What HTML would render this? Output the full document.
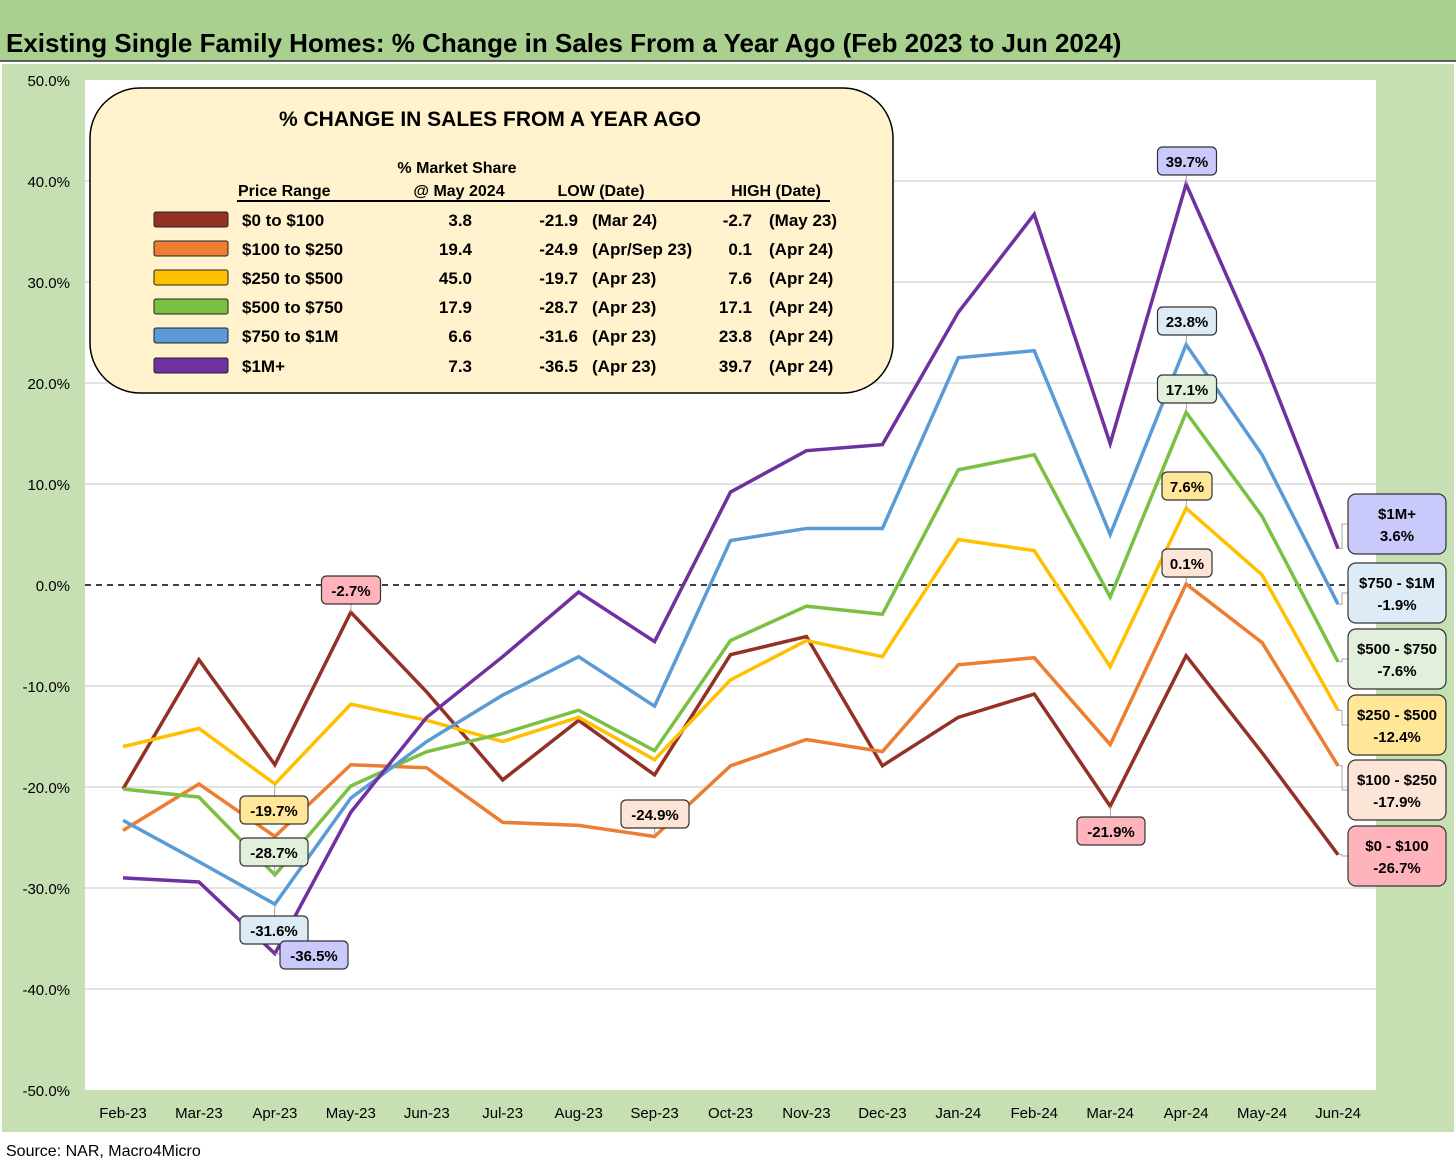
<!DOCTYPE html>
<html><head><meta charset="utf-8"><style>
body{margin:0;background:#fff;}
svg{display:block;font-family:"Liberation Sans",sans-serif;}
</style></head><body>
<svg id="c" width="1456" height="1168" xmlns="http://www.w3.org/2000/svg">
<rect x="0" y="0" width="1456" height="1168" fill="#fff"/>
<rect x="0" y="0" width="1456" height="61" fill="#a9d08e"/>
<line x1="0" y1="61" x2="1456" y2="61" stroke="#333" stroke-width="1.5"/>
<text x="6" y="52" font-size="26" font-weight="bold" fill="#000">Existing Single Family Homes: % Change in Sales From a Year Ago (Feb 2023 to Jun 2024)</text>
<rect x="2" y="64" width="1452" height="1068" fill="#c6e0b4"/>
<rect x="85" y="80" width="1291" height="1010" fill="#fff"/>
<text x="6" y="1156" font-size="16" fill="#000">Source: NAR, Macro4Micro</text>
<g id="grid"></g><g id="lines"></g><g id="callouts"></g>
<g>
<rect x="90" y="88" width="803" height="305" rx="50" fill="#fff2cc" stroke="#000" stroke-width="1.5"/>
<text x="490" y="126" font-size="21" font-weight="bold" text-anchor="middle">% CHANGE IN SALES FROM A YEAR AGO</text>
<g font-size="16" font-weight="bold">
<text x="457" y="173" text-anchor="middle">% Market Share</text>
<text x="238" y="196">Price Range</text>
<text x="459" y="196" text-anchor="middle">@ May 2024</text>
<text x="601" y="196" text-anchor="middle">LOW  (Date)</text>
<text x="776" y="196" text-anchor="middle">HIGH   (Date)</text>
<line x1="237" y1="201" x2="830" y2="201" stroke="#000" stroke-width="2"/>
</g>
<g id="legrows" font-size="17" font-weight="bold"></g>
</g>
</svg>
<script>
const categories=["Feb-23","Mar-23","Apr-23","May-23","Jun-23","Jul-23","Aug-23","Sep-23","Oct-23","Nov-23","Dec-23","Jan-24","Feb-24","Mar-24","Apr-24","May-24","Jun-24"];
const yTicks=[50,40,30,20,10,0,-10,-20,-30,-40,-50];
const s0to100=[-20.2,-7.4,-17.8,-2.7,-10.6,-19.3,-13.4,-18.8,-6.9,-5.1,-17.9,-13.1,-10.8,-21.9,-7.0,-16.6,-26.7];
const s100to250=[-24.3,-19.7,-24.9,-17.8,-18.1,-23.5,-23.8,-24.9,-17.9,-15.3,-16.5,-7.9,-7.2,-15.8,0.1,-5.7,-17.9];
const s250to500=[-16.0,-14.2,-19.7,-11.8,-13.4,-15.5,-13.1,-17.3,-9.4,-5.5,-7.1,4.5,3.4,-8.1,7.6,1.0,-12.4];
const s500to750=[-20.2,-21.0,-28.7,-19.9,-16.5,-14.7,-12.4,-16.4,-5.5,-2.1,-2.9,11.4,12.9,-1.2,17.1,6.8,-7.6];
const s750to1m=[-23.3,-27.4,-31.6,-21.1,-15.5,-10.9,-7.1,-12.0,4.4,5.6,5.6,22.5,23.2,5.0,23.8,12.9,-1.9];
const s1mplus=[-29.0,-29.4,-36.5,-22.5,-13.1,-7.1,-0.7,-5.6,9.2,13.3,13.9,27.0,36.7,14.0,39.7,22.7,3.6];
const seriesNames=["$0 to $100","$100 to $250","$250 to $500","$500 to $750","$750 to $1M","$1M+"];
const endNames=["$0 - $100","$100 - $250","$250 - $500","$500 - $750","$750 - $1M","$1M+"];
const marketShare=["3.8","19.4","45.0","17.9","6.6","7.3"];
const lowVals=["-21.9","-24.9","-19.7","-28.7","-31.6","-36.5"];
const lowDates=["(Mar 24)","(Apr/Sep 23)","(Apr 23)","(Apr 23)","(Apr 23)","(Apr 23)"];
const highVals=["-2.7","0.1","7.6","17.1","23.8","39.7"];
const highDates=["(May 23)","(Apr 24)","(Apr 24)","(Apr 24)","(Apr 24)","(Apr 24)"];

const series=[s0to100,s100to250,s250to500,s500to750,s750to1m,s1mplus];
const colors=["#943126","#ed7d31","#ffc000","#7ac143","#5b9bd5","#7030a0"];
const boxFills=["#ffb3ba","#fce4d6","#ffe699","#e2efda","#ddebf7","#c9c9fb"];
const NS="http://www.w3.org/2000/svg";
const X=i=>123+i*(1338-123)/(categories.length-1);
const Y=v=>585-v*10.1;
function el(tag,attrs,parent,txt){const e=document.createElementNS(NS,tag);for(const k in attrs)e.setAttribute(k,attrs[k]);if(txt!==undefined)e.textContent=txt;parent.appendChild(e);return e;}
const grid=document.getElementById('grid');
yTicks.forEach(t=>{
  if(t!==0&&t!==50&&t!==-50){const g=el('line',{x1:85,x2:1376,y1:Y(t),y2:Y(t),stroke:'#d9d9d9','stroke-width':1.5},grid);
  
  }
  const tl=el('text',{x:70,y:Y(t)+6,'font-size':15,'text-anchor':'end'},grid,t.toFixed(1)+'%');
  
  
});
const zl=el('line',{x1:85,x2:1376,y1:Y(0),y2:Y(0),stroke:'#000','stroke-width':1.5,'stroke-dasharray':'6,5'},grid);


categories.forEach((c,i)=>{const t=el('text',{x:X(i),y:1118,'font-size':15,'text-anchor':'middle'},grid,c);

});
const lines=document.getElementById('lines');
series.forEach((s,k)=>{
  const p=el('polyline',{points:s.map((v,i)=>X(i)+','+Y(v)).join(' '),fill:'none',stroke:colors[k],'stroke-width':3.5,'stroke-linejoin':'miter'},lines);
  
  
});
const co=document.getElementById('callouts');
function callout(k,i,cx,cy,txt){
  const v=series[k][i];const w=txt.length*9+14,h=28;
  el('line',{x1:X(i),y1:Y(v),x2:cx,y2:cy,stroke:'#a6a6a6','stroke-width':1},co);
  const r=el('rect',{x:cx-w/2,y:cy-h/2,width:w,height:h,rx:5,fill:boxFills[k],stroke:'#333','stroke-width':1.2},co);
  
  
  el('text',{x:cx,y:cy+6,'font-size':15,'font-weight':'bold','text-anchor':'middle'},co,txt);
}
callout(5,14,1187,161,"39.7%");
callout(4,14,1187,321,"23.8%");
callout(3,14,1187,389,"17.1%");
callout(2,14,1187,486,"7.6%");
callout(1,14,1187,563,"0.1%");
callout(0,13,1111,831,"-21.9%");
callout(1,7,655,814,"-24.9%");
callout(0,3,351,590,"-2.7%");
callout(2,2,274,810,"-19.7%");
callout(3,2,274,852,"-28.7%");
callout(4,2,274,930,"-31.6%");
callout(5,2,314,955,"-36.5%");
const endTops=[826,760,695,629,563,494];
series.forEach((s,k)=>{
  const n=s.length-1,top=endTops[k],h=60;
  el('polyline',{points:`${X(n)},${Y(s[n])} 1342,${Y(s[n])} 1342,${top+h/2} 1348,${top+h/2}`,fill:'none',stroke:'#a6a6a6','stroke-width':1},co);
  const r=el('rect',{x:1348,y:top,width:98,height:h,rx:8,fill:boxFills[k],stroke:'#333','stroke-width':1.2},co);
  
  
  el('text',{x:1397,y:top+25,'font-size':15,'font-weight':'bold','text-anchor':'middle'},co,endNames[k]);
  el('text',{x:1397,y:top+47,'font-size':15,'font-weight':'bold','text-anchor':'middle'},co,s[n].toFixed(1)+'%');
});
const lr=document.getElementById('legrows');
const rowY=[220,249,278,307,336,366];
seriesNames.forEach((n,k)=>{
  const y=rowY[k];
  const sw=el('rect',{x:154,y:y-8,width:74,height:15,rx:2,fill:colors[k],stroke:'#222','stroke-width':1},lr);
  
  
  el('text',{x:242,y:y+6},lr,n);
  el('text',{x:472,y:y+6,'text-anchor':'end'},lr,marketShare[k]);
  el('text',{x:578,y:y+6,'text-anchor':'end'},lr,lowVals[k]);
  el('text',{x:592,y:y+6},lr,lowDates[k]);
  el('text',{x:752,y:y+6,'text-anchor':'end'},lr,highVals[k]);
  el('text',{x:769,y:y+6},lr,highDates[k]);
});
</script>
</body></html>
